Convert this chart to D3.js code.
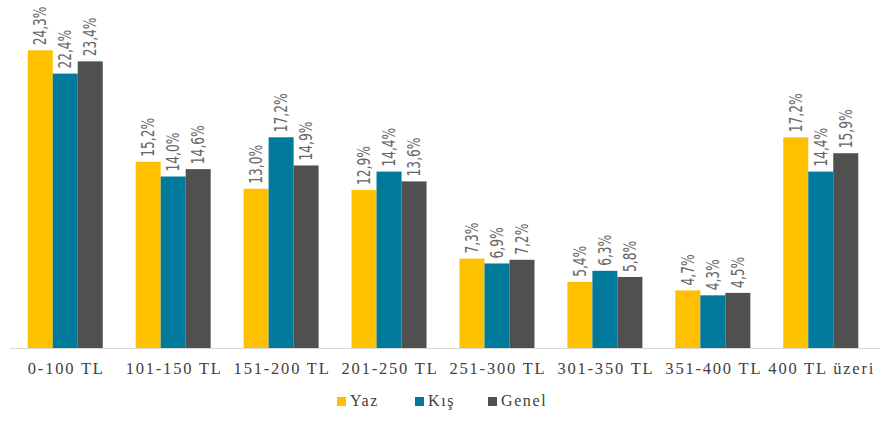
<!DOCTYPE html>
<html>
<head>
<meta charset="utf-8">
<script src="https://cdn.jsdelivr.net/npm/d3@7"></script>
<style>
  body { margin: 0; background: #fff; }
  svg { display: block; }
</style>
</head>
<body>
<div id="chart"></div>
<script>

// chart data
var categories = ["0-100 TL", "101-150 TL", "151-200 TL", "201-250 TL", "251-300 TL", "301-350 TL", "351-400 TL", "400 TL üzeri"];
var seriesNames = ["Yaz", "Kış", "Genel"];
var yazValues = [24.3, 15.2, 13.0, 12.9, 7.3, 5.4, 4.7, 17.2];
var kisValues = [22.4, 14.0, 17.2, 14.4, 6.9, 6.3, 4.3, 14.4];
var genelValues = [23.4, 14.6, 14.9, 13.6, 7.2, 5.8, 4.5, 15.9];
var colors = ["#FFC000", "#00799B", "#505050"];

var width = 887, height = 423;
var baseline = 348;

var svg = d3.select("#chart").append("svg")
	.attr("width", width)
	.attr("height", height);

// table built from the arrays
var data = categories.map(function (c, i) {
	return { cat: c, values: [yazValues[i], kisValues[i], genelValues[i]] };
});

// scales
var x0 = d3.scaleBand()
	.domain(categories)
	.range([11, 875])
	.paddingInner(0.305)
	.paddingOuter(0.155);

var x1 = d3.scaleBand()
	.domain(seriesNames)
	.range([0, x0.bandwidth()]);

var y = d3.scaleLinear()
	.domain([0, 28])
	.range([baseline, baseline - 343]);

var fmt = function (v) { return v.toFixed(1).replace(".", ",") + "%"; };

// bars
var groups = svg.selectAll(".group")
	.data(data)
	.enter().append("g")
	.attr("class", "group")
	.attr("transform", function (d) { return "translate(" + x0(d.cat) + ",0)"; });

groups.selectAll("rect")
	.data(function (d) { return d.values; })
	.enter().append("rect")
	.attr("x", function (d, i) { return x1(seriesNames[i]); })
	.attr("y", function (d) { return y(d); })
	.attr("width", x1.bandwidth())
	.attr("height", function (d) { return baseline - y(d); })
	.attr("fill", function (d, i) { return colors[i]; });

// rotated value labels (narrow, tall glyphs)
groups.selectAll("text.val")
	.data(function (d) { return d.values; })
	.enter().append("text")
	.attr("class", "val")
	.attr("transform", function (d, i) {
		return "translate(" + (x1(seriesNames[i]) + x1.bandwidth() / 2) + "," + (y(d) - 5) + ") rotate(-90) scale(0.8,1)";
	})
	.attr("dy", "0.36em")
	.attr("text-anchor", "start")
	.style("font-family", "'DejaVu Sans Condensed', 'DejaVu Sans', sans-serif")
	.style("font-size", "17px")
	.attr("fill", "#666666")
	.text(fmt);

// x axis line
svg.append("line")
	.attr("x1", 10)
	.attr("x2", 880)
	.attr("y1", baseline + 0.5)
	.attr("y2", baseline + 0.5)
	.attr("stroke", "#d9d9d9")
	.attr("stroke-width", 1);

// category labels
svg.selectAll(".cat")
	.data(categories)
	.enter().append("text")
	.attr("class", "cat")
	.attr("x", function (d) { return x0(d) + x0.bandwidth() / 2 + 1; })
	.attr("y", 374)
	.attr("text-anchor", "middle")
	.style("font-family", "'Liberation Serif', 'Times New Roman', serif")
	.style("font-size", "16.5px")
	.style("letter-spacing", "1.8px")
	.attr("fill", "#404040")
	.text(function (d) { return d; });

// legend
var legendX = [337, 415, 488];
var legend = svg.selectAll(".legend")
	.data(seriesNames)
	.enter().append("g")
	.attr("class", "legend")
	.attr("transform", function (d, i) { return "translate(" + legendX[i] + ",405)"; });

legend.append("rect")
	.attr("x", 0)
	.attr("y", -8)
	.attr("width", 9)
	.attr("height", 9)
	.attr("fill", function (d, i) { return colors[i]; });

legend.append("text")
	.attr("x", 13)
	.attr("y", 1)
	.style("font-family", "'Liberation Serif', 'Times New Roman', serif")
	.style("font-size", "16px")
	.style("letter-spacing", "1.6px")
	.attr("fill", "#404040")
	.text(function (d) { return d; });

</script>
</body>
</html>
